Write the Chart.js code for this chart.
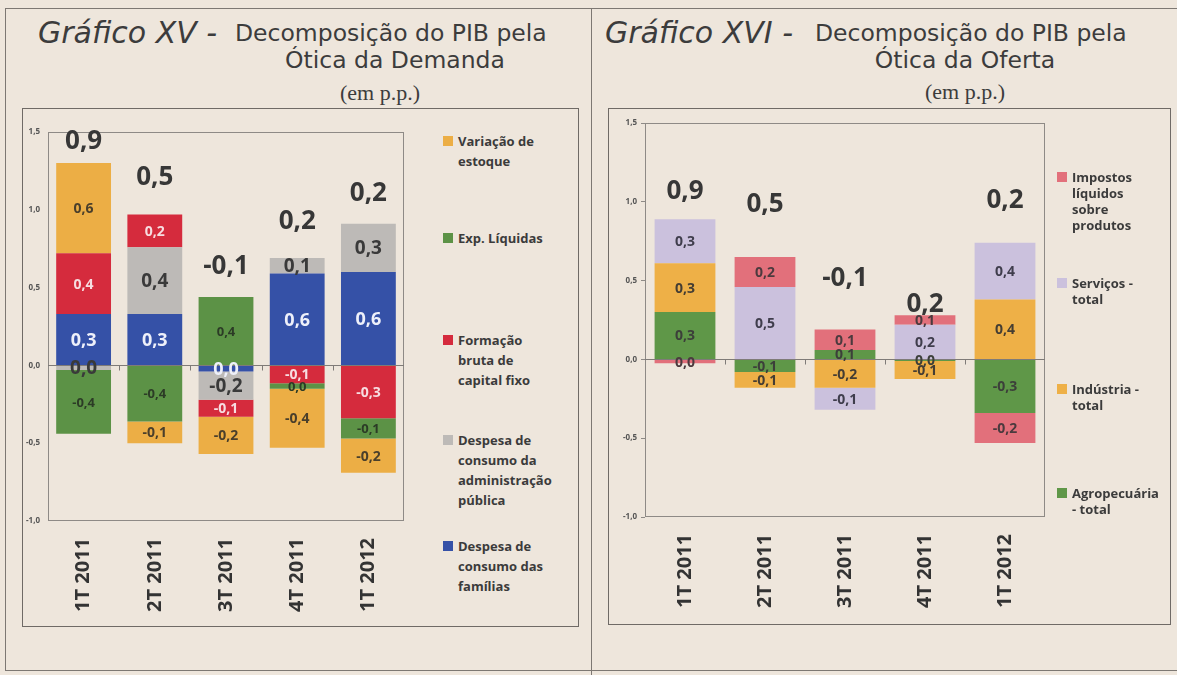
<!DOCTYPE html>
<html lang="pt">
<head>
<meta charset="utf-8">
<script src="https://cdn.jsdelivr.net/npm/chart.js@4.4.1/dist/chart.umd.min.js"></script>
<style>
  html, body { margin: 0; padding: 0; }
  body { width: 1177px; height: 675px; overflow: hidden; position: relative; background: #eee6dc; color: #3a3a3a; font-family: "Open Sans", sans-serif; }
  .line { position: absolute; background: #7d7873; }
  .box { position: absolute; border: 1px solid #6f6a66; box-sizing: border-box; }
  .t-num { position: absolute; font-family: "DejaVu Sans", sans-serif; font-style: italic; font-size: 30px; line-height: 36px; white-space: nowrap; color: #3c3c3c; }
  .t-main { position: absolute; font-family: "DejaVu Sans", sans-serif; font-size: 23.5px; line-height: 28px; white-space: nowrap; color: #3c3c3c; }
  .t-sub { position: absolute; font-family: "DejaVu Sans", sans-serif; font-size: 23.5px; line-height: 28px; white-space: nowrap; color: #3c3c3c; transform: translateX(-50%); }
  .t-unit { position: absolute; font-family: "Liberation Serif", "DejaVu Serif", serif; font-size: 22px; line-height: 26px; white-space: nowrap; color: #3c3c3c; transform: translateX(-50%); }
  canvas { position: absolute; }
  .legend { position: absolute; }
  .legend .item { position: absolute; left: 0; font-weight: 700; color: #3b3b3b; }
  .legend .sw { position: absolute; left: 0; width: 10px; height: 10px; }
  .legend .tx { position: absolute; white-space: pre; }
</style>
</head>
<body>
<div class="line" style="left:5px; top:8px; width:1172px; height:1px;"></div>
<div class="line" style="left:5px; top:8px; width:1px; height:663px;"></div>
<div class="line" style="left:591px; top:8px; width:1px; height:667px;"></div>
<div class="line" style="left:5px; top:670px; width:1172px; height:1px;"></div>

<div class="t-num" style="left:38px; top:15px;">Gráfico XV -</div>
<div class="t-main" style="left:235px; top:19px;">Decomposição do PIB pela</div>
<div class="t-sub" style="left:395px; top:46px;">Ótica da Demanda</div>
<div class="t-unit" style="left:380px; top:80px;">(em p.p.)</div>

<div class="t-num" style="left:605px; top:15px;">Gráfico XVI -</div>
<div class="t-main" style="left:815px; top:19px;">Decomposição do PIB pela</div>
<div class="t-sub" style="left:965px; top:46px;">Ótica da Oferta</div>
<div class="t-unit" style="left:965px; top:79px;">(em p.p.)</div>

<div class="box" style="left:22px; top:108px; width:557px; height:519px;"></div>
<div class="box" style="left:608px; top:108px; width:563px; height:517px;"></div>

<canvas id="demandaChart" width="398" height="518" style="left:22px; top:108px;"></canvas>
<canvas id="ofertaChart" width="452" height="516" style="left:608px; top:108px;"></canvas>
<div class="legend" id="demandaLegend" style="left:443px; top:0px;"></div>
<div class="legend" id="ofertaLegend" style="left:1057px; top:0px;"></div>

<script>
// Trimestres (eixo x)
var trimestres = ['1T 2011', '2T 2011', '3T 2011', '4T 2011', '1T 2012'];

// Gráfico XV - ótica da demanda (p.p.)
var demFamilias    = [0.33, 0.33, -0.04, 0.59, 0.60];
var demAdmPublica  = [-0.03, 0.43, -0.18, 0.10, 0.31];
var demFbcf        = [0.39, 0.21, -0.11, -0.115, -0.34];
var demExpLiquidas = [-0.41, -0.36, 0.44, -0.035, -0.13];
var demEstoque     = [0.58, -0.14, -0.24, -0.38, -0.22];
var demTotal       = [0.9, 0.5, -0.1, 0.2, 0.2];

// Gráfico XVI - ótica da oferta (p.p.)
var ofAgro      = [0.30, -0.08, 0.06, -0.01, -0.34];
var ofIndustria = [0.31, -0.10, -0.18, -0.115, 0.38];
var ofServicos  = [0.28, 0.46, -0.14, 0.22, 0.36];
var ofImpostos  = [-0.025, 0.19, 0.13, 0.06, -0.19];
var ofTotal     = [0.9, 0.5, -0.1, 0.2, 0.2];

var FONT = '"Open Sans", sans-serif';

function fmt(v){
  var r = Math.round(v * 10) / 10;
  if (r === 0) r = 0;
  return r.toFixed(1).replace('.', ',');
}

// moldura da área do gráfico + linha do zero + marcas entre categorias
var plotFrame = {
  id: 'plotFrame',
  beforeDatasetsDraw: function(chart){
    var a = chart.chartArea, ctx = chart.ctx;
    ctx.save();
    ctx.strokeStyle = '#8e8a86';
    ctx.lineWidth = 1;
    ctx.strokeRect(Math.round(a.left) + 0.5, Math.round(a.top) + 0.5, Math.round(a.width) - 1, Math.round(a.height) - 1);
    ctx.restore();
  },
  afterDatasetsDraw: function(chart){
    var a = chart.chartArea, ctx = chart.ctx;
    var xs = chart.scales.x;
    var y0 = Math.round(chart.scales.y.getPixelForValue(0)) + 0.5;
    ctx.save();
    ctx.strokeStyle = '#7f7b78';
    ctx.lineWidth = 1;
    ctx.beginPath();
    ctx.moveTo(a.left, y0); ctx.lineTo(a.right, y0);
    for (var i = 1; i < chart.data.labels.length; i++) {
      var bx = Math.round((xs.getPixelForValue(i - 1) + xs.getPixelForValue(i)) / 2) + 0.5;
      ctx.moveTo(bx, y0); ctx.lineTo(bx, y0 + 5);
    }
    ctx.stroke();
    ctx.restore();
  }
};

// rótulos dentro das barras e total do trimestre acima
var barLabels = {
  id: 'barLabels',
  afterDatasetsDraw: function(chart, args, opts){
    var ctx = chart.ctx;
    ctx.save();
    ctx.textAlign = 'center';
    ctx.textBaseline = 'middle';
    chart.data.datasets.forEach(function(ds, i){
      var meta = chart.getDatasetMeta(i);
      var st = opts.styles[i];
      ctx.font = 'bold ' + st.size + 'px ' + FONT;
      ctx.fillStyle = st.color;
      meta.data.forEach(function(bar, j){
        ctx.fillText(fmt(ds.data[j]), bar.x, (bar.y + bar.base) / 2 + 1);
      });
    });
    var ys = chart.scales.y;
    ctx.font = 'bold 26px ' + FONT;
    ctx.fillStyle = '#373737';
    opts.totals.forEach(function(t, j){
      var top = 0;
      chart.data.datasets.forEach(function(ds){ if (ds.data[j] > 0) top += ds.data[j]; });
      var x = chart.getDatasetMeta(0).data[j].x;
      ctx.fillText(fmt(t), x, ys.getPixelForValue(top) - opts.lift[j]);
    });
    ctx.restore();
  }
};

function buildLegend(el, items, tops, lineH, fontSize){
  el.innerHTML = '';
  items.forEach(function(it, k){
    var d = document.createElement('div');
    d.className = 'item';
    d.style.top = (tops[k] - lineH / 2) + 'px';
    d.style.lineHeight = lineH + 'px';
    d.style.fontSize = fontSize + 'px';
    var sw = document.createElement('span');
    sw.className = 'sw';
    sw.style.background = it.color;
    sw.style.top = ((lineH - 10) / 2) + 'px';
    var tx = document.createElement('span');
    tx.className = 'tx';
    tx.style.left = '15px';
    tx.textContent = it.text;
    d.appendChild(sw);
    d.appendChild(tx);
    el.appendChild(d);
  });
}

function makeChart(canvasId, datasets, cfg){
  return new Chart(document.getElementById(canvasId).getContext('2d'), {
    type: 'bar',
    data: { labels: trimestres, datasets: datasets },
    options: {
      responsive: false,
      animation: false,
      events: [],
      layout: { padding: { top: cfg.padTop, right: cfg.padRight, left: 0, bottom: 0 } },
      datasets: { bar: { categoryPercentage: 1, barPercentage: cfg.barPct, borderWidth: 0 } },
      scales: {
        x: {
          stacked: true,
          afterFit: function(s){ s.height = cfg.xHeight; },
          grid: { display: false },
          border: { display: false },
          ticks: { maxRotation: 90, minRotation: 90, padding: cfg.xPad, color: '#333',
                   font: { family: FONT, size: 20, weight: 'bold' } }
        },
        y: {
          stacked: true,
          min: -1, max: 1.5,
          afterFit: function(s){ s.width = cfg.yWidth; },
          border: { display: false },
          grid: { display: cfg.yTicks, drawOnChartArea: false, tickLength: 4, color: '#8e8a86' },
          ticks: { stepSize: 0.5, padding: 4, color: '#555',
                   font: { family: FONT, size: 8, weight: 'bold' },
                   callback: function(v){ return fmt(v); } }
        }
      },
      plugins: {
        legend: { display: false },
        tooltip: { enabled: false },
        barLabels: { styles: cfg.labelStyles, totals: cfg.totals, lift: cfg.lift }
      }
    },
    plugins: [plotFrame, barLabels]
  });
}

// cores
var cAzul = '#3551a7', cCinza = '#bdbab7', cVermelho = '#d52b3d', cVerde = '#5c9246', cLaranja = '#ecae45';
var cRosa = '#e2707b', cLilas = '#cbc1dd', cLaranja2 = '#eeb047', cVerde2 = '#5f9748';

var demChart = makeChart('demandaChart', [
  { label: 'Despesa de consumo das famílias', data: demFamilias, backgroundColor: cAzul },
  { label: 'Despesa de consumo da administração pública', data: demAdmPublica, backgroundColor: cCinza },
  { label: 'Formação bruta de capital fixo', data: demFbcf, backgroundColor: cVermelho },
  { label: 'Exp. Líquidas', data: demExpLiquidas, backgroundColor: cVerde },
  { label: 'Variação de estoque', data: demEstoque, backgroundColor: cLaranja }
], {
  padTop: 24, padRight: 16, xHeight: 105, yWidth: 26, xPad: 9, barPct: 0.77, yTicks: false,
  totals: demTotal,
  lift: [22, 37, 30, 36, 30],
  labelStyles: [
    { size: 18, color: '#eef0fa' },
    { size: 19, color: '#3a3a3a' },
    { size: 14, color: '#f7dde1' },
    { size: 13, color: '#2c3b26' },
    { size: 14, color: '#4a3f2b' }
  ]
});

var ofChart = makeChart('ofertaChart', [
  { label: 'Agropecuária - total', data: ofAgro, backgroundColor: cVerde2 },
  { label: 'Indústria - total', data: ofIndustria, backgroundColor: cLaranja2 },
  { label: 'Serviços - total', data: ofServicos, backgroundColor: cLilas },
  { label: 'Impostos líquidos sobre produtos', data: ofImpostos, backgroundColor: cRosa }
], {
  padTop: 15, padRight: 15, xHeight: 107, yWidth: 37, xPad: 9, barPct: 0.76, yTicks: true,
  totals: ofTotal,
  lift: [28, 52, 51, 11, 42],
  labelStyles: [
    { size: 14, color: '#3c3f3a' },
    { size: 14, color: '#443d33' },
    { size: 14, color: '#3f3d4c' },
    { size: 14, color: '#4b3a3e' }
  ]
});

// legendas (ordem inversa, como no original)
buildLegend(document.getElementById('demandaLegend'), [
  { text: 'Variação de\nestoque', color: cLaranja },
  { text: 'Exp. Líquidas', color: cVerde },
  { text: 'Formação\nbruta de\ncapital fixo', color: cVermelho },
  { text: 'Despesa de\nconsumo da\nadministração\npública', color: cCinza },
  { text: 'Despesa de\nconsumo das\nfamílias', color: cAzul }
], [141, 238, 340, 440, 546], 20, 13);

buildLegend(document.getElementById('ofertaLegend'), [
  { text: 'Impostos\nlíquidos\nsobre\nprodutos', color: cRosa },
  { text: 'Serviços -\ntotal', color: cLilas },
  { text: 'Indústria -\ntotal', color: cLaranja2 },
  { text: 'Agropecuária\n- total', color: cVerde2 }
], [177, 283, 389, 493], 16, 13);
</script>
</body>
</html>
